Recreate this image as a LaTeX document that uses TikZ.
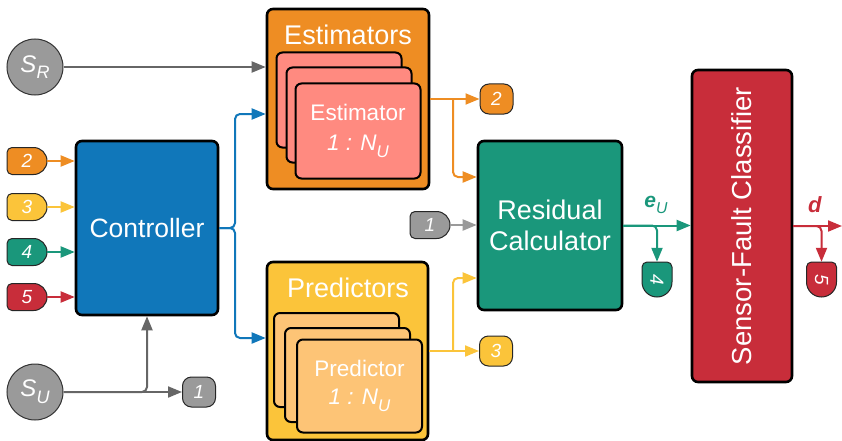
\documentclass[tikz,border=0pt]{standalone}
\usepackage{fontspec}
\setmainfont{Liberation Sans}
\usetikzlibrary{arrows.meta,calc}

\definecolor{ctrlblue}{HTML}{1077BA}
\definecolor{estorange}{HTML}{EE8D23}
\definecolor{estcard}{HTML}{FF8A80}
\definecolor{predyellow}{HTML}{FBC43A}
\definecolor{predcard}{HTML}{FDC476}
\definecolor{resteal}{HTML}{1A977B}
\definecolor{clfred}{HTML}{C82D3A}
\definecolor{sgray}{HTML}{9A9A9A}
\definecolor{lgray}{HTML}{666666}

\newcommand\fsz[2]{\fontsize{#1}{#2}\selectfont}
\newcommand\lowsub[1]{\raisebox{-0.28em}{\scalebox{0.75}{#1}}}

% D-shaped tag: flat side with rounded corners on the left, half circle on the right
% #1 name, #2 x, #3 y, #4 length, #5 thickness, #6 fill, #7 text, #8 rotation
\newcommand\dbadge[8]{%
  \pgfmathsetmacro\bhw{#4/2}%
  \pgfmathsetmacro\bhh{#5/2}%
  \pgfmathsetmacro\bst{#4/2-#5/2}%
  \pgfmathsetmacro\bin{#4/2-5}%
  \pgfmathsetmacro\bvi{#5/2-5}%
  \begin{scope}[shift={(#2,#3)}, rotate=#8]
    \draw[badgeline, fill=#6] (\bst pt,\bhh pt) -- (-\bin pt,\bhh pt)
      arc[start angle=90,end angle=180,radius=5pt] -- (-\bhw pt,-\bvi pt)
      arc[start angle=180,end angle=270,radius=5pt] -- (\bst pt,-\bhh pt)
      arc[start angle=-90,end angle=90,radius=\bhh pt] -- cycle;
  \end{scope}
  \node[badgetext, rotate=#8, minimum width=#4pt, minimum height=#5pt] (#1) at (#2,#3) {#7};
}

\begin{document}
\begin{tikzpicture}[x=1pt,y=-1pt,
  box/.style={draw=black, line width=2.6pt, rounded corners=6pt, inner sep=0pt},
  card/.style={draw=black, line width=2pt, rounded corners=6pt, inner sep=0pt,
    minimum width=125pt, minimum height=95pt, text=white, align=center},
  title/.style={text=white, font=\fsz{27}{32}, inner sep=0pt},
  badgeline/.style={draw=black!85, line width=1pt},
  badgetext/.style={text=white, font=\fsz{19}{22}\itshape, inner sep=0pt},
  rbadge/.style={badgeline, rounded corners=9pt, badgetext,
    minimum width=33pt, minimum height=30pt},
  sensor/.style={circle, draw=black!80, line width=1pt, fill=sgray, text=white,
    font=\fsz{24}{28}, inner sep=0pt, minimum size=56pt},
  link/.style={line width=2pt, -{Triangle[length=14pt,width=11pt]}},
]
\useasboundingbox (0,0) rectangle (842,441);

% sensors
\node[sensor] (sr) at (35,67) {\textit{S\lowsub{R}}};
\node[sensor] (su) at (35,392) {\textit{S\lowsub{U}}};

% controller
\node[box, fill=ctrlblue, minimum width=142pt, minimum height=174pt,
  text=white, font=\fsz{26.5}{31}] (ctrl) at (147,228) {Controller};

% estimator bank
\node[box, fill=estorange, minimum width=162pt, minimum height=180pt] (est) at (348,99) {};
\node[title] (esttitle) at (348,35) {Estimators};
\node[card, fill=estcard] (ec1) at (339,100) {};
\node[card, fill=estcard] (ec2) at (349,115) {};
\node[card, fill=estcard, font=\fsz{22.5}{30}] (ec3) at (358,131)
  {Estimator\\\textit{1 : N\lowsub{U}}};

% predictor bank
\node[box, fill=predyellow, minimum width=161pt, minimum height=178pt] (pred) at (347.5,351) {};
\node[title] (predtitle) at (348,288) {Predictors};
\node[card, fill=predcard, minimum height=94pt] (pc1) at (336.5,360) {};
\node[card, fill=predcard, minimum height=94pt] (pc2) at (347.5,375) {};
\node[card, fill=predcard, minimum height=93pt, font=\fsz{22.5}{28}] (pc3) at (359.5,386)
  {Predictor\\\textit{1 : N\lowsub{U}}};

% residual calculator and classifier
\node[box, fill=resteal, minimum width=144pt, minimum height=169pt,
  text=white, font=\fsz{27}{31}, align=center] (res) at (550,225.5) {Residual\\Calculator};
\node[box, fill=clfred, minimum width=100pt, minimum height=312pt] (clf) at (742,226) {};
\node[rotate=90, text=white, font=\fsz{27.5}{30}] (clftext) at (clf.center) {Sensor-Fault Classifier};

% tags
\dbadge{lb2}{27}{161}{40}{27}{estorange}{2}{0}
\dbadge{lb3}{27}{207}{40}{27}{predyellow}{3}{0}
\dbadge{lb4}{27}{252}{40}{27}{resteal}{4}{0}
\dbadge{lb5}{27}{297}{40}{27}{clfred}{5}{0}
\dbadge{rb1}{430}{225}{40}{27}{sgray}{1}{0}
\dbadge{ob4}{657}{279.5}{35}{30}{resteal}{4}{-90}
\dbadge{ob5}{821.5}{279.5}{35}{30}{clfred}{5}{-90}
\node[rbadge, fill=estorange] (eb2) at (496.5,99) {2};
\node[rbadge, fill=predyellow] (pb3) at (496,351) {3};
\node[rbadge, fill=sgray] (bb1) at (199,392) {1};

% labels on the outputs
\node[text=resteal, font=\fsz{21}{24}] (eu) at (656,205) {\textbf{\textit{e}}\lowsub{\textit{U}}};
\node[text=clfred, font=\fsz{22}{26}] (dl) at (815,205) {\textbf{\textit{d}}};

% split points and free ends
\coordinate (csplit) at (235,228);
\coordinate (esplit) at (453,99);
\coordinate (psplit) at (453,351);
\coordinate (dout) at (842,226);

% connectors
\draw[link, lgray] (sr.east) -- (sr.east -| est.west);
\draw[link, lgray] (su.east) -- (bb1.west);
\draw[link, lgray, rounded corners=5pt] (su.east) -| (ctrl.south);

\draw[link, estorange] (lb2.east) -- (lb2.east -| ctrl.west);
\draw[link, predyellow] (lb3.east) -- (lb3.east -| ctrl.west);
\draw[link, resteal] (lb4.east) -- (lb4.east -| ctrl.west);
\draw[link, clfred] (lb5.east) -- (lb5.east -| ctrl.west);

\draw[link, ctrlblue, rounded corners=5pt] (ctrl.east) -- (csplit) |- ([yshift=-15pt]est.west);
\draw[link, ctrlblue, rounded corners=5pt] (ctrl.east) -- (csplit) |- ([yshift=13pt]pred.west);

\draw[link, estorange] (est.east) -- (eb2.west);
\draw[link, estorange, rounded corners=5pt] (esplit) |- ([yshift=48.5pt]res.west);
\draw[link, predyellow] (pred.east) -- (pb3.west);
\draw[link, predyellow, rounded corners=5pt] (psplit) |- ([yshift=-52.5pt]res.west);

\draw[link, sgray] (rb1.east) -- (rb1.east -| res.west);

\draw[link, resteal] (res.east) -- (res.east -| clf.west);
\draw[link, resteal, rounded corners=5pt] (res.east) -| (ob4.west);
\draw[link, clfred] (clf.east) -- (dout);
\draw[link, clfred, rounded corners=5pt] (clf.east) -| (ob5.west);
\end{tikzpicture}
\end{document}
